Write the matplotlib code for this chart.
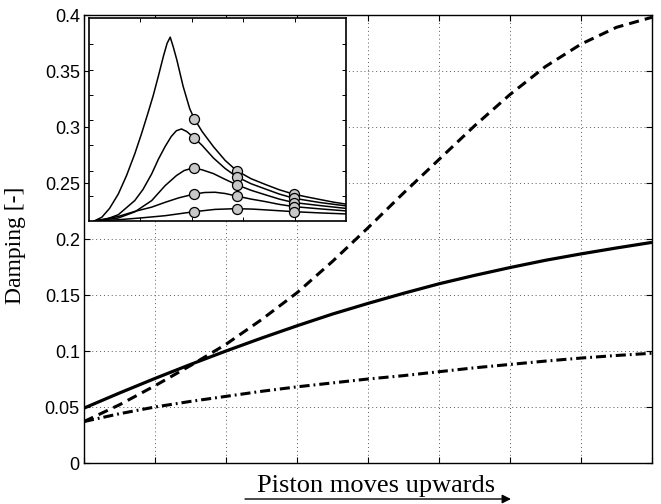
import matplotlib
matplotlib.use("Agg")
import matplotlib.pyplot as plt

# Main curves: damping along the piston stroke
stroke = [0, 0.5, 1, 1.5, 2, 2.5, 3, 3.5, 4, 4.5, 5, 5.5, 6, 6.5, 7, 7.5, 8]
damp_solid = [0.049, 0.0625, 0.0755, 0.088, 0.100, 0.1115, 0.1225, 0.133, 0.1425,
              0.1515, 0.160, 0.1675, 0.1745, 0.181, 0.1867, 0.192, 0.197]
damp_dashed = [0.037, 0.052, 0.069, 0.087, 0.106, 0.128, 0.152, 0.180, 0.210,
               0.241, 0.271, 0.301, 0.329, 0.354, 0.374, 0.389, 0.398]
damp_dashdot = [0.037, 0.044, 0.050, 0.055, 0.0595, 0.064, 0.068, 0.0715, 0.075,
                0.078, 0.0815, 0.085, 0.088, 0.091, 0.0937, 0.096, 0.098]

y_ticks = [0, 0.05, 0.1, 0.15, 0.2, 0.25, 0.3, 0.35, 0.4]
y_ticklabels = ["0", "0.05", "0.1", "0.15", "0.2", "0.25", "0.3", "0.35", "0.4"]

# Inset: response curves with marked operating points
c1_x = [0.10, 0.25, 0.40, 0.57, 0.73, 0.89, 1.02, 1.15, 1.25, 1.35, 1.45, 1.52, 1.58,
        1.64, 1.71, 1.83, 1.96, 2.05, 2.20, 2.42, 2.65, 2.87, 3.15, 3.43, 3.70, 3.99,
        4.25, 4.50, 4.75, 5.00]
c1_y = [0.00, 0.15, 0.50, 1.07, 1.80, 2.66, 3.45, 4.30, 4.98, 5.75, 6.55, 7.05, 7.29,
        6.90, 6.38, 5.35, 4.45, 4.05, 3.55, 2.95, 2.40, 2.00, 1.68, 1.45, 1.24, 1.06,
        0.95, 0.85, 0.75, 0.67]
c2_x = [0.10, 0.35, 0.57, 0.89, 1.05, 1.22, 1.35, 1.48, 1.60, 1.70, 1.80, 1.90, 2.05,
        2.20, 2.42, 2.65, 2.87, 3.15, 3.43, 3.70, 3.99, 4.50, 5.00]
c2_y = [0.00, 0.08, 0.25, 0.81, 1.25, 1.87, 2.45, 2.95, 3.35, 3.58, 3.65, 3.55, 3.29,
        3.00, 2.50, 2.08, 1.76, 1.48, 1.27, 1.07, 0.90, 0.73, 0.60]
c3_x = [0.10, 0.57, 0.89, 1.22, 1.48, 1.70, 1.85, 2.00, 2.05, 2.20, 2.42, 2.65, 2.87,
        3.15, 3.43, 3.70, 3.99, 4.50, 5.00]
c3_y = [0.00, 0.12, 0.36, 0.81, 1.40, 1.80, 2.00, 2.09, 2.09, 2.03, 1.88, 1.65, 1.44,
        1.22, 1.04, 0.87, 0.73, 0.61, 0.50]
c4_x = [0.10, 0.57, 0.89, 1.22, 1.48, 1.75, 2.05, 2.25, 2.45, 2.65, 2.87, 3.15, 3.43,
        3.70, 3.99, 4.50, 5.00]
c4_y = [0.00, 0.18, 0.38, 0.55, 0.74, 0.92, 1.07, 1.13, 1.14, 1.09, 0.99, 0.87, 0.77,
        0.66, 0.57, 0.48, 0.40]
c5_x = [0.10, 0.57, 1.00, 1.48, 2.05, 2.45, 2.87, 3.20, 3.60, 3.99, 4.50, 5.00]
c5_y = [0.00, 0.05, 0.12, 0.21, 0.37, 0.46, 0.49, 0.47, 0.42, 0.37, 0.32, 0.28]

mark_x = [2.05, 2.87, 3.99]
mark_c1 = [4.05, 2.00, 1.06]
mark_c2 = [3.29, 1.76, 0.90]
mark_c3 = [2.09, 1.44, 0.73]
mark_c4 = [1.07, 0.99, 0.57]
mark_c5 = [0.37, 0.49, 0.37]

W, H = 661, 504
fig = plt.figure(figsize=(W / 100, H / 100), dpi=100)

tick_font = {"family": "Liberation Sans", "size": 13}

ax = fig.add_axes([84 / W, 1 - 463 / H, 568 / W, 448 / H])
ax.plot(stroke, damp_dashed, color="k", lw=2.2, linestyle=(0, (3.3, 2.0)))
ax.plot(stroke, damp_dashdot, color="k", lw=2.2, linestyle=(0, (3.3, 1.3, 0.6, 1.3)))
ax.plot(stroke, damp_solid, color="k", lw=2.3, solid_capstyle="butt")
ax.set_xlim(0, 8)
ax.set_ylim(0, 0.4)
ax.set_xticks(range(0, 9))
ax.set_xticklabels([])
ax.set_yticks(y_ticks)
ax.set_yticklabels(y_ticklabels, fontdict=tick_font)
ax.grid(True, linestyle=(0, (1, 3)), color="0.35", linewidth=0.7)
ax.tick_params(direction="in", length=4, width=0.8, top=True, right=True, pad=3)
for sp in ax.spines.values():
    sp.set_linewidth(1.0)

fig.text(16 / W, 1 - 245 / H, "Damping [-]", rotation=90, ha="center", va="center",
         family="Liberation Serif", fontsize=17)
fig.text(376.5 / W, 1 - 491.7 / H, "Piston moves upwards", ha="center", va="baseline",
         family="Liberation Serif", fontsize=19)
ax.annotate("", xy=(511 / W, 1 - 499 / H), xytext=(245 / W, 1 - 499 / H),
            xycoords="figure fraction", textcoords="figure fraction",
            arrowprops=dict(arrowstyle="-|>", color="k", lw=1.0, mutation_scale=13,
                            shrinkA=0, shrinkB=0))

ins = fig.add_axes([89 / W, 1 - 221 / H, 257 / W, 203 / H])
ins.set_facecolor("white")
curves = [(c1_x, c1_y, mark_c1), (c2_x, c2_y, mark_c2), (c3_x, c3_y, mark_c3),
          (c4_x, c4_y, mark_c4), (c5_x, c5_y, mark_c5)]
for cx, cy, my in curves:
    ins.plot(cx, cy, color="k", lw=1.1)
for cx, cy, my in curves:
    ins.plot(mark_x, my, linestyle="none", marker="o", markersize=7.2,
             markerfacecolor="#c8c8c8", markeredgecolor="k", markeredgewidth=0.9)
ins.set_xlim(0, 5)
ins.set_ylim(0, 8.05)
ins.set_xticks([1, 2, 3, 4])
ins.set_yticks([1, 2, 3, 4, 5, 6, 7])
ins.set_xticklabels([])
ins.set_yticklabels([])
ins.tick_params(direction="in", length=3, width=0.7, top=True, right=True)
for sp in ins.spines.values():
    sp.set_linewidth(1.2)

fig.savefig("out.png", dpi=100)
